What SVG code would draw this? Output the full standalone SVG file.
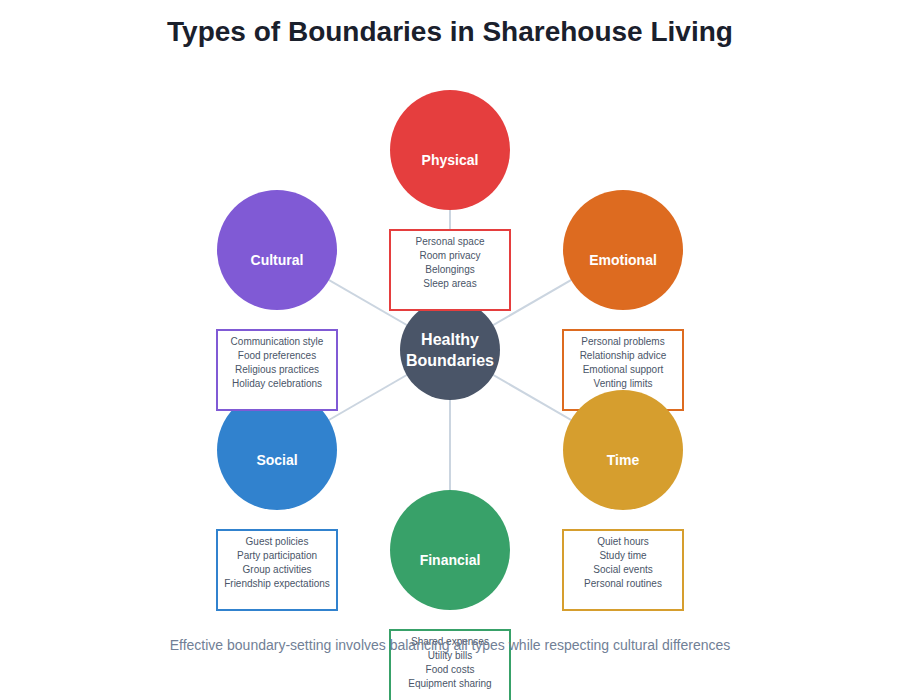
<svg xmlns="http://www.w3.org/2000/svg" width="900" height="700" viewBox="0 0 900 700">
<style>
.title{font-family:"Liberation Sans",Arial,sans-serif;font-size:28px;font-weight:bold;fill:#1a202c;text-anchor:middle}
.lbl{font-family:"Liberation Sans",Arial,sans-serif;font-size:14px;font-weight:bold;fill:#ffffff;text-anchor:middle}
.ctr{font-family:"Liberation Sans",Arial,sans-serif;font-size:16px;font-weight:bold;fill:#ffffff;text-anchor:middle}
.item{font-family:"Liberation Sans",Arial,sans-serif;font-size:10px;fill:#4a5568;text-anchor:middle}
.foot{font-family:"Liberation Sans",Arial,sans-serif;font-size:14px;fill:#718096;text-anchor:middle}
.conn{stroke:#cbd5e0;stroke-width:2;fill:none}
.box{fill:#ffffff;stroke-width:2}
</style>
<rect width="900" height="700" fill="#ffffff"/>
<text class="title" x="450" y="41">Types of Boundaries in Sharehouse Living</text>
<g id="connectors">
<line class="conn" x1="450" y1="350" x2="450" y2="150"/>
<line class="conn" x1="450" y1="350" x2="623" y2="250"/>
<line class="conn" x1="450" y1="350" x2="623" y2="450"/>
<line class="conn" x1="450" y1="350" x2="450" y2="550"/>
<line class="conn" x1="450" y1="350" x2="277" y2="450"/>
<line class="conn" x1="450" y1="350" x2="277" y2="250"/>
</g>
<g id="center">
<circle cx="450" cy="350" r="50" fill="#4a5568"/>
<text class="ctr" x="450" y="345">Healthy</text>
<text class="ctr" x="450" y="366">Boundaries</text>
</g>
<g id="physical">
<circle cx="450" cy="150" r="60" fill="#e53e3e"/>
<text class="lbl" x="450" y="165">Physical</text>
<rect class="box" x="390" y="230" width="120" height="80" stroke="#e53e3e"/>
<text class="item" x="450" y="245">Personal space</text>
<text class="item" x="450" y="259">Room privacy</text>
<text class="item" x="450" y="273">Belongings</text>
<text class="item" x="450" y="287">Sleep areas</text>
</g>
<g id="emotional">
<circle cx="623" cy="250" r="60" fill="#dd6b20"/>
<text class="lbl" x="623" y="265">Emotional</text>
<rect class="box" x="563" y="330" width="120" height="80" stroke="#dd6b20"/>
<text class="item" x="623" y="345">Personal problems</text>
<text class="item" x="623" y="359">Relationship advice</text>
<text class="item" x="623" y="373">Emotional support</text>
<text class="item" x="623" y="387">Venting limits</text>
</g>
<g id="time">
<circle cx="623" cy="450" r="60" fill="#d69e2e"/>
<text class="lbl" x="623" y="465">Time</text>
<rect class="box" x="563" y="530" width="120" height="80" stroke="#d69e2e"/>
<text class="item" x="623" y="545">Quiet hours</text>
<text class="item" x="623" y="559">Study time</text>
<text class="item" x="623" y="573">Social events</text>
<text class="item" x="623" y="587">Personal routines</text>
</g>
<g id="financial">
<circle cx="450" cy="550" r="60" fill="#38a169"/>
<text class="lbl" x="450" y="565">Financial</text>
<rect class="box" x="390" y="630" width="120" height="80" stroke="#38a169"/>
<text class="item" x="450" y="645">Shared expenses</text>
<text class="item" x="450" y="659">Utility bills</text>
<text class="item" x="450" y="673">Food costs</text>
<text class="item" x="450" y="687">Equipment sharing</text>
</g>
<g id="social">
<circle cx="277" cy="450" r="60" fill="#3182ce"/>
<text class="lbl" x="277" y="465">Social</text>
<rect class="box" x="217" y="530" width="120" height="80" stroke="#3182ce"/>
<text class="item" x="277" y="545">Guest policies</text>
<text class="item" x="277" y="559">Party participation</text>
<text class="item" x="277" y="573">Group activities</text>
<text class="item" x="277" y="587">Friendship expectations</text>
</g>
<g id="cultural">
<circle cx="277" cy="250" r="60" fill="#805ad5"/>
<text class="lbl" x="277" y="265">Cultural</text>
<rect class="box" x="217" y="330" width="120" height="80" stroke="#805ad5"/>
<text class="item" x="277" y="345">Communication style</text>
<text class="item" x="277" y="359">Food preferences</text>
<text class="item" x="277" y="373">Religious practices</text>
<text class="item" x="277" y="387">Holiday celebrations</text>
</g>
<text class="foot" x="450" y="650">Effective boundary-setting involves balancing all types while respecting cultural differences</text>
</svg>
